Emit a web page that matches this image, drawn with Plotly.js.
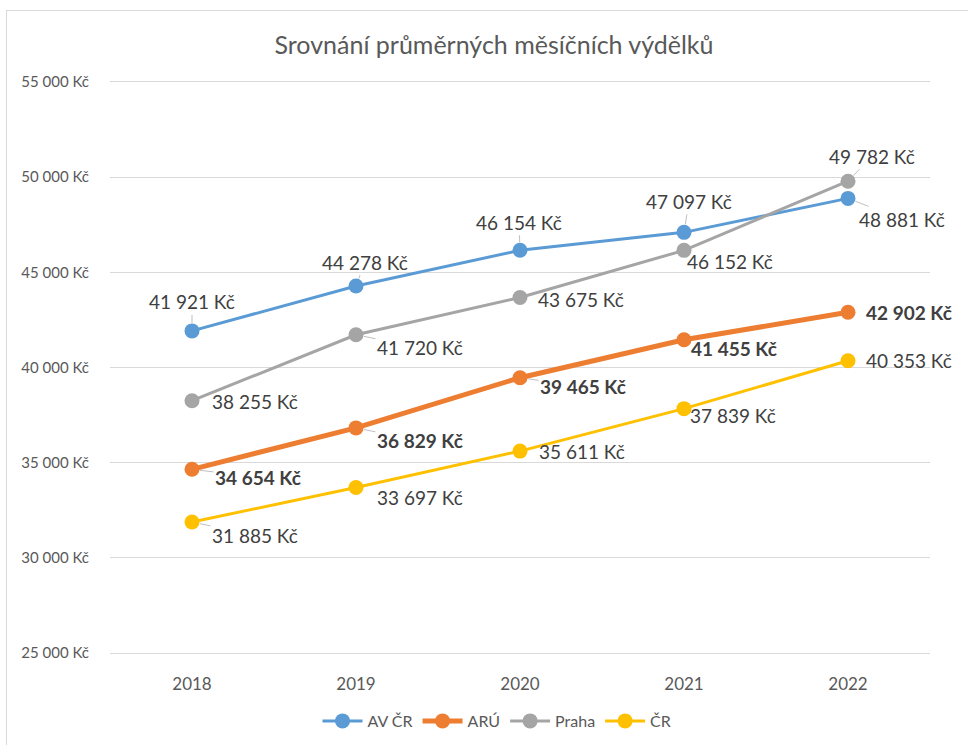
<!DOCTYPE html>
<html>
<head>
<meta charset="utf-8">
<script src="https://cdn.plot.ly/plotly-3.0.1.min.js"></script>
<style>
  html, body { margin: 0; padding: 0; background: #ffffff; }
  #chart { position: absolute; left: 0; top: 0; width: 968px; height: 745px; }
  #frame { position: absolute; left: 6px; top: 10px; width: 980px; height: 760px; border: 1px solid #d9d9d9; pointer-events: none; }
</style>
</head>
<body>
<div id="chart"></div>
<div id="frame"></div>
<script>
// ---- data ----
const years = ['2018', '2019', '2020', '2021', '2022'];
const seriesNames = ['AV ČR', 'ARÚ', 'Praha', 'ČR'];
const avcr  = [41921, 44278, 46154, 47097, 48881];
const aru   = [34654, 36829, 39465, 41455, 42902];
const praha = [38255, 41720, 43675, 46152, 49782];
const cr    = [31885, 33697, 35611, 37839, 40353];
const yTickVals = [25000, 30000, 35000, 40000, 45000, 50000, 55000];
const yTickText = ['25 000 Kč', '30 000 Kč', '35 000 Kč', '40 000 Kč', '45 000 Kč', '50 000 Kč', '55 000 Kč'];
const titleText = 'Srovnání průměrných měsíčních výdělků';

// ---- styles ----
const colors = ['#5B9BD5', '#ED7D31', '#A5A5A5', '#FFC000'];
const lineWidths = [3, 5, 3, 3];
const boldLabels = [false, true, false, false];
// label offsets (px) relative to each point, per series
const labelOffsets = [
  [[0, -29], [9, -24], [-1, -28], [5, -31], [54, 21]],
  [[66, 8], [64, 13], [63, 9], [50, 9], [61, 0]],
  [[63, 1], [64, 13], [61, 2], [46, 11], [24, -25]],
  [[63, 13], [64, 10], [62, 0], [49, 7], [61, 0]]
];
// whether a leader line is visible for each label
const leaderVisible = [
  [true, true, true, true, true],
  [true, true, true, false, false],
  [false, true, false, false, true],
  [true, false, false, true, false]
];

const allSeries = [avcr, aru, praha, cr];
const FONT = 'Lato, "Open Sans", sans-serif';

function fmt(v) {
  return String(v).replace(/\B(?=(\d{3})+(?!\d))/g, ' ') + ' Kč';
}

const traces = allSeries.map((vals, i) => ({
  type: 'scatter',
  mode: 'lines+markers',
  name: seriesNames[i],
  x: years,
  y: vals,
  line: { color: colors[i], width: lineWidths[i] },
  marker: { color: colors[i], size: 15 },
  hoverinfo: 'skip'
}));

const annotations = [];
allSeries.forEach((vals, i) => {
  vals.forEach((v, j) => {
    const t = fmt(v);
    annotations.push({
      x: j, y: v, xref: 'x', yref: 'y',
      text: boldLabels[i] ? '<b>' + t + '</b>' : t,
      showarrow: true,
      arrowhead: 0,
      arrowwidth: 1,
      arrowcolor: leaderVisible[i][j] ? '#bfbfbf' : 'rgba(0,0,0,0)',
      standoff: 8,
      ax: labelOffsets[i][j][0],
      ay: labelOffsets[i][j][1],
      font: { family: FONT, size: 19, color: '#404040' }
    });
  });
});

const layout = {
  width: 968,
  height: 745,
  paper_bgcolor: '#ffffff',
  plot_bgcolor: '#ffffff',
  margin: { l: 110, r: 38, t: 79, b: 89 },
  title: {
    text: titleText,
    font: { family: FONT, size: 25, color: '#595959' },
    x: 494 / 968, xref: 'container', xanchor: 'center',
    y: 1 - 45 / 745, yref: 'container', yanchor: 'middle'
  },
  xaxis: {
    type: 'category',
    range: [-0.5, 4.5],
    showgrid: false,
    zeroline: false,
    showline: false,
    ticks: '',
    automargin: false,
    tickfont: { family: FONT, size: 17, color: '#595959' },
    ticklabelstandoff: 16
  },
  yaxis: {
    range: [24850, 55150],
    tickvals: yTickVals,
    ticktext: yTickText,
    showgrid: true,
    gridcolor: '#d9d9d9',
    gridwidth: 1,
    zeroline: false,
    showline: false,
    ticks: '',
    automargin: false,
    tickfont: { family: FONT, size: 15, color: '#595959' },
    ticklabelstandoff: 20
  },
  showlegend: true,
  legend: {
    orientation: 'h',
    x: 497 / 968, xref: 'container', xanchor: 'center',
    y: 1 - 721 / 745, yref: 'container', yanchor: 'middle',
    itemwidth: 40,
    font: { family: FONT, size: 16, color: '#595959' },
    traceorder: 'normal'
  },
  annotations: annotations
};

Plotly.newPlot('chart', traces, layout, { displayModeBar: false });
</script>
</body>
</html>
